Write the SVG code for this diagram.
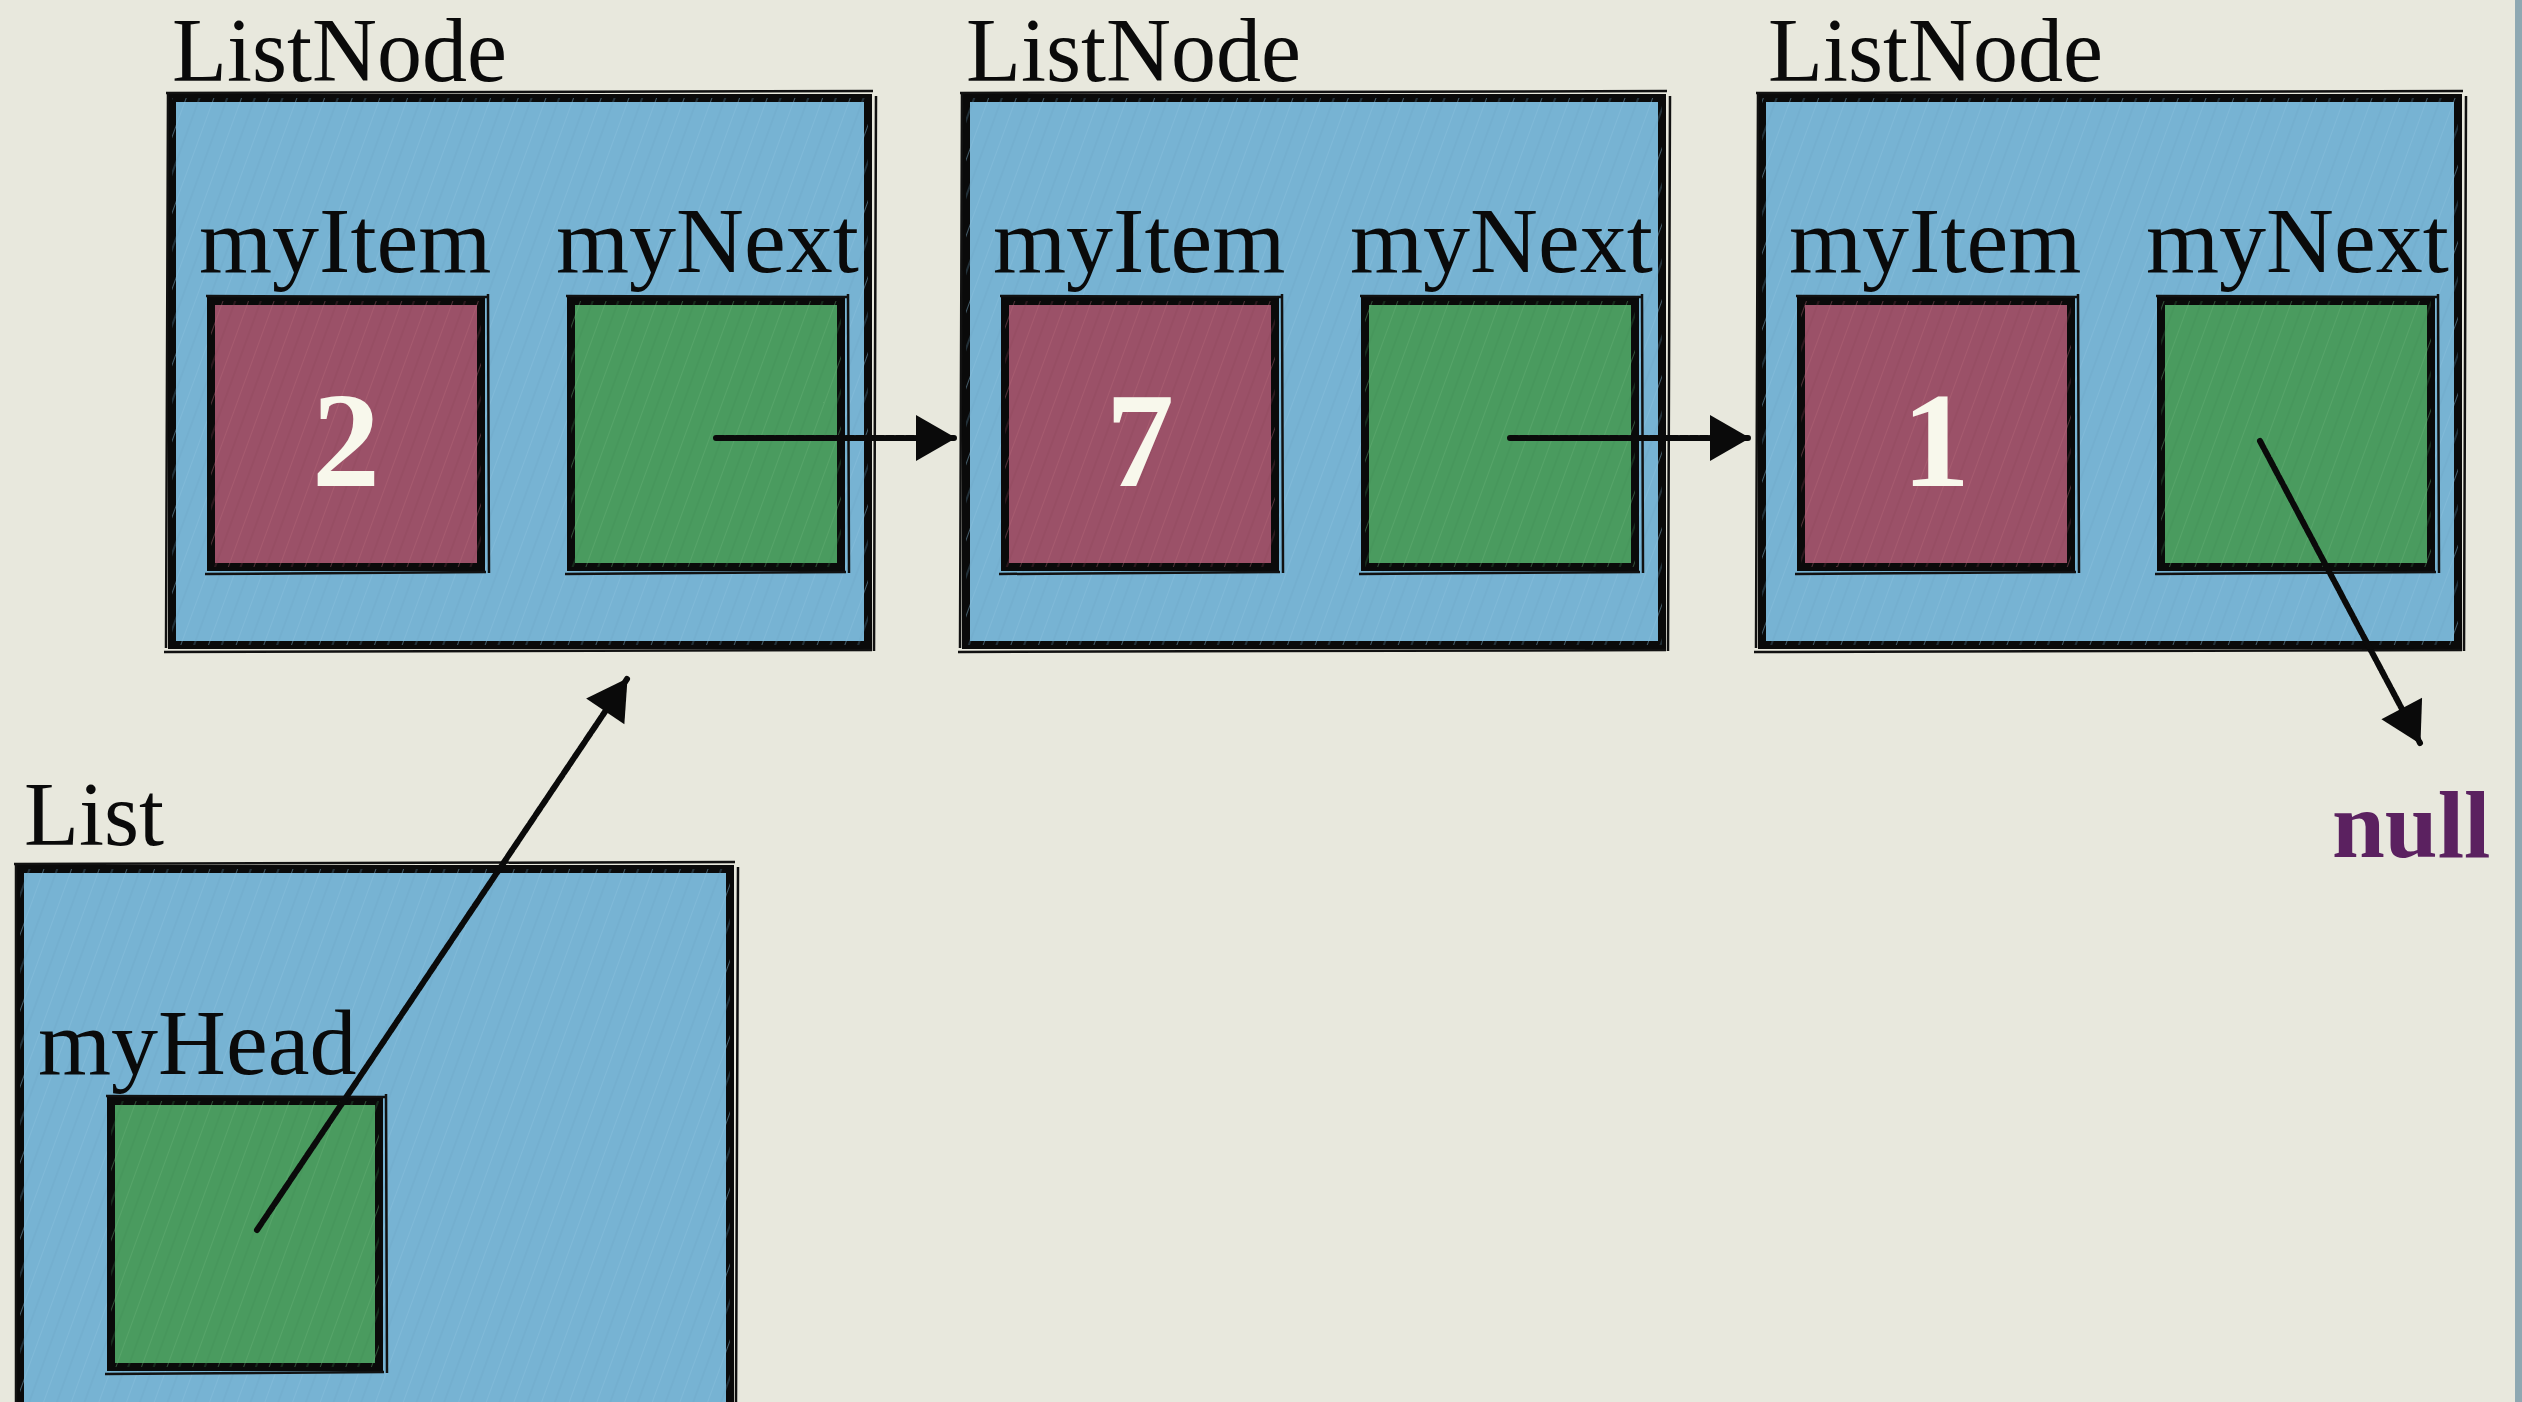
<svg xmlns="http://www.w3.org/2000/svg" width="2522" height="1402" viewBox="0 0 2522 1402">
  <defs>
    <style>
      .bg { fill: #e8e8dd; }
      .outer { fill: #77b3d3; stroke: #0a0a0a; stroke-width: 8; }
      .item { fill: #9b5168; stroke: #0a0a0a; stroke-width: 8; }
      .next { fill: #4a9b5f; stroke: #0a0a0a; stroke-width: 8; }
      .rough { fill: none; stroke: #111; stroke-width: 2.5; }
      .hatch { pointer-events: none; }
      .title { font-family: "Liberation Serif", "DejaVu Serif", serif; font-size: 90px; fill: #0a0a0a; }
      .field { font-family: "Liberation Serif", "DejaVu Serif", serif; font-size: 94px; fill: #0a0a0a; }
      .num { font-family: "Liberation Serif", "DejaVu Serif", serif; font-size: 136px; font-weight: bold; fill: #f8f8ec; text-anchor: middle; }
      .null { font-family: "Liberation Serif", "DejaVu Serif", serif; font-size: 95px; font-weight: bold; fill: #5b2160; }
      .link { fill: none; stroke: #0a0a0a; stroke-width: 6; stroke-dasharray: 8 2; stroke-linecap: round; }
    </style>
    <pattern id="hatchBlue" width="26" height="26" patternUnits="userSpaceOnUse" patternTransform="rotate(20)">
      <line x1="0" y1="0" x2="0" y2="26" stroke="#8cc2de" stroke-width="1.5" opacity="0.6"/>
      <line x1="13" y1="0" x2="13" y2="26" stroke="#6aa4c4" stroke-width="1" opacity="0.5"/>
    </pattern>
    <pattern id="hatchRed" width="24" height="24" patternUnits="userSpaceOnUse" patternTransform="rotate(20)">
      <line x1="0" y1="0" x2="0" y2="24" stroke="#b76678" stroke-width="1.5" opacity="0.55"/>
      <line x1="12" y1="0" x2="12" y2="24" stroke="#8a4358" stroke-width="1" opacity="0.5"/>
    </pattern>
    <pattern id="hatchGreen" width="24" height="24" patternUnits="userSpaceOnUse" patternTransform="rotate(20)">
      <line x1="0" y1="0" x2="0" y2="24" stroke="#66b277" stroke-width="1.5" opacity="0.55"/>
      <line x1="12" y1="0" x2="12" y2="24" stroke="#3f8a52" stroke-width="1" opacity="0.5"/>
    </pattern>
    <marker id="arrow" markerUnits="userSpaceOnUse" markerWidth="44" markerHeight="52" refX="40" refY="25" orient="auto">
      <path d="M1,2 L41,25 L1,48 Z" fill="#0a0a0a"/>
    </marker>
  </defs>

  <rect class="bg" x="0" y="0" width="2522" height="1402"/>
  <rect x="2515" y="0" width="7" height="1402" fill="#8ea8b2"/>

  <!-- ListNode 1 -->
  <g id="node1">
    <text class="title" x="172" y="81">ListNode</text>
    <rect class="outer" x="172" y="98" width="696" height="547"/>
    <rect class="hatch" x="172" y="98" width="696" height="547" fill="url(#hatchBlue)"/>
    <path class="rough" d="M166,93 L873,91 M876,96 L874,651 M872,650 L164,652 M166,648 L168,92"/>
    <text class="field" x="199" y="272">myItem</text>
    <text class="field" x="556" y="272">myNext</text>
    <rect class="item" x="211" y="301" width="270" height="266"/>
    <rect class="hatch" x="211" y="301" width="270" height="266" fill="url(#hatchRed)"/>
    <path class="rough" d="M206,296 L487,297 M488,294 L489,573 M486,572 L205,574"/>
    <text class="num" x="346" y="486">2</text>
    <rect class="next" x="571" y="301" width="270" height="266"/>
    <rect class="hatch" x="571" y="301" width="270" height="266" fill="url(#hatchGreen)"/>
    <path class="rough" d="M566,296 L847,297 M848,294 L849,573 M846,572 L565,574"/>
  </g>

  <!-- ListNode 2 -->
  <g id="node2">
    <text class="title" x="966" y="81">ListNode</text>
    <rect class="outer" x="966" y="98" width="696" height="547"/>
    <rect class="hatch" x="966" y="98" width="696" height="547" fill="url(#hatchBlue)"/>
    <path class="rough" d="M960,93 L1667,91 M1670,96 L1668,651 M1666,650 L958,652 M960,648 L962,92"/>
    <text class="field" x="993" y="272">myItem</text>
    <text class="field" x="1350" y="272">myNext</text>
    <rect class="item" x="1005" y="301" width="270" height="266"/>
    <rect class="hatch" x="1005" y="301" width="270" height="266" fill="url(#hatchRed)"/>
    <path class="rough" d="M1000,296 L1281,297 M1282,294 L1283,573 M1280,572 L999,574"/>
    <text class="num" x="1140" y="486">7</text>
    <rect class="next" x="1365" y="301" width="270" height="266"/>
    <rect class="hatch" x="1365" y="301" width="270" height="266" fill="url(#hatchGreen)"/>
    <path class="rough" d="M1360,296 L1641,297 M1642,294 L1643,573 M1640,572 L1359,574"/>
  </g>

  <!-- ListNode 3 -->
  <g id="node3">
    <text class="title" x="1768" y="81">ListNode</text>
    <rect class="outer" x="1762" y="98" width="696" height="547"/>
    <rect class="hatch" x="1762" y="98" width="696" height="547" fill="url(#hatchBlue)"/>
    <path class="rough" d="M1756,93 L2463,91 M2466,96 L2464,651 M2462,650 L1754,652 M1756,648 L1758,92"/>
    <text class="field" x="1789" y="272">myItem</text>
    <text class="field" x="2146" y="272">myNext</text>
    <rect class="item" x="1801" y="301" width="270" height="266"/>
    <rect class="hatch" x="1801" y="301" width="270" height="266" fill="url(#hatchRed)"/>
    <path class="rough" d="M1796,296 L2077,297 M2078,294 L2079,573 M2076,572 L1795,574"/>
    <text class="num" x="1936" y="486">1</text>
    <rect class="next" x="2161" y="301" width="270" height="266"/>
    <rect class="hatch" x="2161" y="301" width="270" height="266" fill="url(#hatchGreen)"/>
    <path class="rough" d="M2156,296 L2437,297 M2438,294 L2439,573 M2436,572 L2155,574"/>
  </g>

  <!-- List -->
  <g id="list">
    <text class="title" x="24" y="845">List</text>
    <rect class="outer" x="20" y="869" width="710" height="540"/>
    <rect class="hatch" x="20" y="869" width="710" height="540" fill="url(#hatchBlue)"/>
    <path class="rough" d="M14,864 L735,862 M738,867 L736,1402 M16,1402 L16,864"/>
    <text class="field" x="38" y="1074">myHead</text>
    <rect class="next" x="111" y="1101" width="268" height="266"/>
    <rect class="hatch" x="111" y="1101" width="268" height="266" fill="url(#hatchGreen)"/>
    <path class="rough" d="M106,1096 L385,1097 M386,1094 L387,1373 M384,1372 L105,1374"/>
  </g>

  <!-- null -->
  <g id="null">
    <text class="null" x="2332" y="857">null</text>
  </g>

  <!-- connectors -->
  <g id="connectors">
    <line class="link" x1="716" y1="438" x2="955" y2="438" marker-end="url(#arrow)"/>
    <line class="link" x1="1510" y1="438" x2="1749" y2="438" marker-end="url(#arrow)"/>
    <line class="link" x1="2260" y1="441" x2="2420" y2="743" marker-end="url(#arrow)"/>
    <line class="link" x1="257" y1="1230" x2="627" y2="679" marker-end="url(#arrow)"/>
  </g>
</svg>
